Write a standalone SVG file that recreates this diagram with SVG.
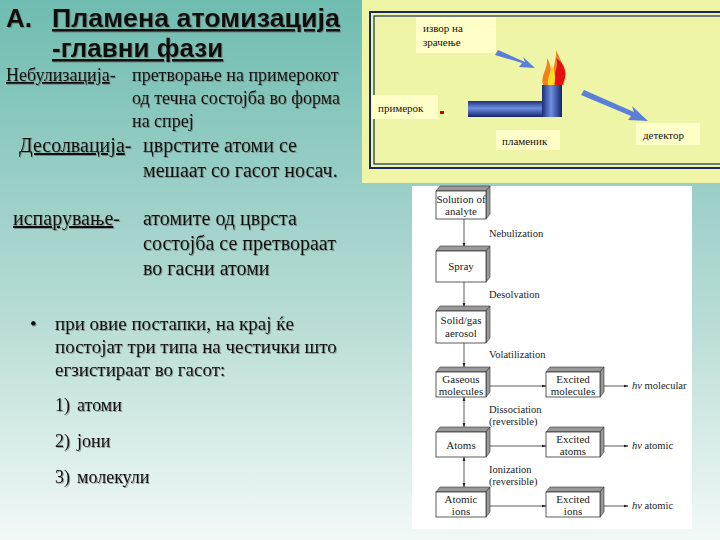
<svg xmlns="http://www.w3.org/2000/svg" width="720" height="540" viewBox="0 0 720 540">
<defs>
<linearGradient id="bg" x1="0" y1="0" x2="0" y2="1"><stop offset="0" stop-color="#6fbcb0"/><stop offset="0.6" stop-color="#b9ddd6"/><stop offset="1" stop-color="#f2f9f7"/></linearGradient>
<linearGradient id="pipe" x1="0" y1="0" x2="0" y2="1"><stop offset="0" stop-color="#1c2f7a"/><stop offset="0.45" stop-color="#6f8fe0"/><stop offset="1" stop-color="#14246a"/></linearGradient>
<linearGradient id="pipev" x1="0" y1="0" x2="1" y2="0"><stop offset="0" stop-color="#1c2f7a"/><stop offset="0.45" stop-color="#6f8fe0"/><stop offset="1" stop-color="#14246a"/></linearGradient>
<marker id="ah" viewBox="0 0 10 10" refX="9" refY="5" markerWidth="6" markerHeight="6" orient="auto-start-reverse"><path d="M0,2 L10,5 L0,8 z" fill="#222"/></marker>
<filter id="sh"><feDropShadow dx="1" dy="1" stdDeviation="0.3" flood-color="#555" flood-opacity="0.5"/></filter>
</defs>
<style>
.t{font-family:"Liberation Serif",serif;fill:#111}
.b{font-family:"Liberation Serif",serif;font-size:11px;fill:#222;text-anchor:middle}
.l{font-family:"Liberation Serif",serif;font-size:10.5px;fill:#222}
.box{fill:#fff;stroke:#333;stroke-width:0.8}
.side{fill:#999;stroke:#333;stroke-width:0.6}
.ln{stroke:#333;stroke-width:0.8;fill:none}
.yl{fill:#ffffc8}
.ylt{font-family:"Liberation Serif",serif;font-size:11px;fill:#111}
</style>
<rect width="720" height="540" fill="url(#bg)"/>
<g id="title" filter="url(#sh)">
<text x="6" y="27" font-family="Liberation Sans,sans-serif" font-weight="bold" font-size="26" fill="#111">A.</text>
<text x="52" y="27" font-family="Liberation Sans,sans-serif" font-weight="bold" font-size="26" fill="#111" text-decoration="underline" textLength="288" lengthAdjust="spacingAndGlyphs">Пламена атомизација</text>
<text x="52" y="57" font-family="Liberation Sans,sans-serif" font-weight="bold" font-size="26" fill="#111" text-decoration="underline">-главни фази</text>
</g>
<g id="text-left" filter="url(#sh)">
<text x="6" y="81" class="t" font-size="18"><tspan text-decoration="underline">Небулизација</tspan>-</text>
<text x="132" y="81" class="t" font-size="18">претворање на примерокот</text>
<text x="132" y="104" class="t" font-size="18">од течна состојба во форма</text>
<text x="132" y="127" class="t" font-size="18">на спреј</text>
<text x="19" y="152" class="t" font-size="20"><tspan text-decoration="underline">Десолвација</tspan>-</text>
<text x="143" y="152" class="t" font-size="20">цврстите атоми се</text>
<text x="143" y="177" class="t" font-size="20">мешаат со гасот носач.</text>
<text x="13" y="225" class="t" font-size="20"><tspan text-decoration="underline">испарување</tspan>-</text>
<text x="143" y="225" class="t" font-size="20">атомите од цврста</text>
<text x="143" y="250" class="t" font-size="20">состојба се претвораат</text>
<text x="143" y="275" class="t" font-size="20">во гасни атоми</text>
<text x="30" y="330" class="t" font-size="19">•</text>
<text x="55" y="330" class="t" font-size="19">при овие постапки, на крај ќе</text>
<text x="55" y="353" class="t" font-size="19">постојат три типа на честички што</text>
<text x="55" y="376" class="t" font-size="19">егзистираат во гасот:</text>
<text x="55" y="411" class="t" font-size="18">1)</text><text x="77" y="411" class="t" font-size="18">атоми</text>
<text x="55" y="447" class="t" font-size="18">2)</text><text x="77" y="447" class="t" font-size="18">јони</text>
<text x="55" y="483" class="t" font-size="18">3)</text><text x="77" y="483" class="t" font-size="18">молекули</text>
</g>
<g id="burner-panel">
<rect x="362" y="0" width="358" height="183" fill="#eef5a6"/>
<rect x="370" y="12" width="360" height="156" fill="none" stroke="#1b2a5a" stroke-width="2"/>
<rect x="374" y="16" width="352" height="148" fill="none" stroke="#1b2a5a" stroke-width="1.2"/>
<rect x="416" y="17" width="80" height="36" class="yl"/>
<text x="423" y="32" class="ylt">извор на</text>
<text x="423" y="46" class="ylt">зрачење</text>
<rect x="372" y="95" width="66" height="24" class="yl"/>
<text x="378" y="112" class="ylt">примерок</text>
<rect x="496" y="130" width="64" height="20" class="yl"/>
<text x="502" y="145" class="ylt">пламеник</text>
<rect x="636" y="123" width="64" height="22" class="yl"/>
<text x="643" y="139" class="ylt">детектор</text>
<rect x="440" y="111" width="4" height="3" fill="#c00"/>
<rect x="468" y="101" width="76" height="16" fill="url(#pipe)"/>
<rect x="542" y="85" width="20" height="32" fill="url(#pipev)"/>
<path d="M543,85 C540,75 548,70 547,58 C552,66 550,72 553,76 C553,65 557,58 556,50 C560,60 566,66 564,85 Z" fill="#f08020"/>
<path d="M555,85 C552,72 560,68 556,58 C566,64 568,76 562,85 Z" fill="#e51010"/>
<path d="M548,85 C547,76 552,72 551,64 C555,70 556,78 554,85 Z" fill="#f8e020"/>
<path d="M498,50 L525,62 L523,57 L535,68 L519,67 L522,63 L495,55 Z" fill="#5b7fd8"/>
<path d="M584,90 L634,112 L632,106 L648,121 L628,120 L631,116 L581,95 Z" fill="#5b7fd8"/>
</g>
<g id="flow-panel">
<rect x="412" y="186" width="280" height="343" fill="#fff"/>
</g>
<g id="connectors">
<line x1="464" y1="213" x2="464" y2="247" class="ln" marker-end="url(#ah)"/>
<line x1="464" y1="281" x2="464" y2="307" class="ln" marker-end="url(#ah)"/>
<line x1="464" y1="342" x2="464" y2="367" class="ln" marker-end="url(#ah)"/>
<line x1="464" y1="397" x2="464" y2="427" class="ln" marker-start="url(#ah)" marker-end="url(#ah)"/>
<line x1="464" y1="457" x2="464" y2="487" class="ln" marker-start="url(#ah)" marker-end="url(#ah)"/>
<line x1="489" y1="386" x2="546" y2="386" class="ln" marker-end="url(#ah)"/>
<line x1="489" y1="446" x2="546" y2="446" class="ln" marker-end="url(#ah)"/>
<line x1="489" y1="506" x2="546" y2="506" class="ln" marker-end="url(#ah)"/>
<line x1="603" y1="386" x2="628" y2="386" class="ln" marker-end="url(#ah)"/>
<line x1="603" y1="446" x2="628" y2="446" class="ln" marker-end="url(#ah)"/>
<line x1="603" y1="506" x2="628" y2="506" class="ln" marker-end="url(#ah)"/>
<text x="489" y="237" class="l">Nebulization</text>
<text x="489" y="298" class="l">Desolvation</text>
<text x="489" y="358" class="l">Volatilization</text>
<text x="489" y="413" class="l">Dissociation</text>
<text x="489" y="425" class="l">(reversible)</text>
<text x="489" y="473" class="l">Ionization</text>
<text x="489" y="485" class="l">(reversible)</text>
<text x="632" y="389" class="l"><tspan font-style="italic">hν</tspan> molecular</text>
<text x="632" y="449" class="l"><tspan font-style="italic">hν</tspan> atomic</text>
<text x="632" y="509" class="l"><tspan font-style="italic">hν</tspan> atomic</text>
</g>
<g id="n-solution"><path d="M436,191 L440,186 L490,186 L486,191 Z" class="side"/><path d="M486,191 L490,186 L490,214 L486,219 Z" class="side"/><rect x="436" y="191" width="50" height="28" class="box"/><text x="461" y="203" class="b">Solution of</text><text x="461" y="215" class="b">analyte</text></g>
<g id="n-spray"><path d="M436,251 L440,246 L490,246 L486,251 Z" class="side"/><path d="M486,251 L490,246 L490,277 L486,282 Z" class="side"/><rect x="436" y="251" width="50" height="31" class="box"/><text x="461" y="270" class="b">Spray</text></g>
<g id="n-solid"><path d="M436,311 L440,306 L490,306 L486,311 Z" class="side"/><path d="M486,311 L490,306 L490,338 L486,343 Z" class="side"/><rect x="436" y="311" width="50" height="32" class="box"/><text x="461" y="324" class="b">Solid/gas</text><text x="461" y="337" class="b">aerosol</text></g>
<g id="n-gaseous"><path d="M436,372 L440,367 L490,367 L486,372 Z" class="side"/><path d="M486,372 L490,367 L490,392 L486,397 Z" class="side"/><rect x="436" y="372" width="50" height="25" class="box"/><text x="461" y="383" class="b">Gaseous</text><text x="461" y="395" class="b">molecules</text></g>
<g id="n-atoms"><path d="M436,432 L440,427 L490,427 L486,432 Z" class="side"/><path d="M486,432 L490,427 L490,452 L486,457 Z" class="side"/><rect x="436" y="432" width="50" height="25" class="box"/><text x="461" y="449" class="b">Atoms</text></g>
<g id="n-ions"><path d="M436,492 L440,487 L490,487 L486,492 Z" class="side"/><path d="M486,492 L490,487 L490,512 L486,517 Z" class="side"/><rect x="436" y="492" width="50" height="25" class="box"/><text x="461" y="503" class="b">Atomic</text><text x="461" y="515" class="b">ions</text></g>
<g id="n-exmol"><path d="M546,372 L550,367 L604,367 L600,372 Z" class="side"/><path d="M600,372 L604,367 L604,392 L600,397 Z" class="side"/><rect x="546" y="372" width="54" height="25" class="box"/><text x="573" y="383" class="b">Excited</text><text x="573" y="395" class="b">molecules</text></g>
<g id="n-exatoms"><path d="M546,432 L550,427 L604,427 L600,432 Z" class="side"/><path d="M600,432 L604,427 L604,452 L600,457 Z" class="side"/><rect x="546" y="432" width="54" height="25" class="box"/><text x="573" y="443" class="b">Excited</text><text x="573" y="455" class="b">atoms</text></g>
<g id="n-exions"><path d="M546,492 L550,487 L604,487 L600,492 Z" class="side"/><path d="M600,492 L604,487 L604,512 L600,517 Z" class="side"/><rect x="546" y="492" width="54" height="25" class="box"/><text x="573" y="503" class="b">Excited</text><text x="573" y="515" class="b">ions</text></g>
</svg>
